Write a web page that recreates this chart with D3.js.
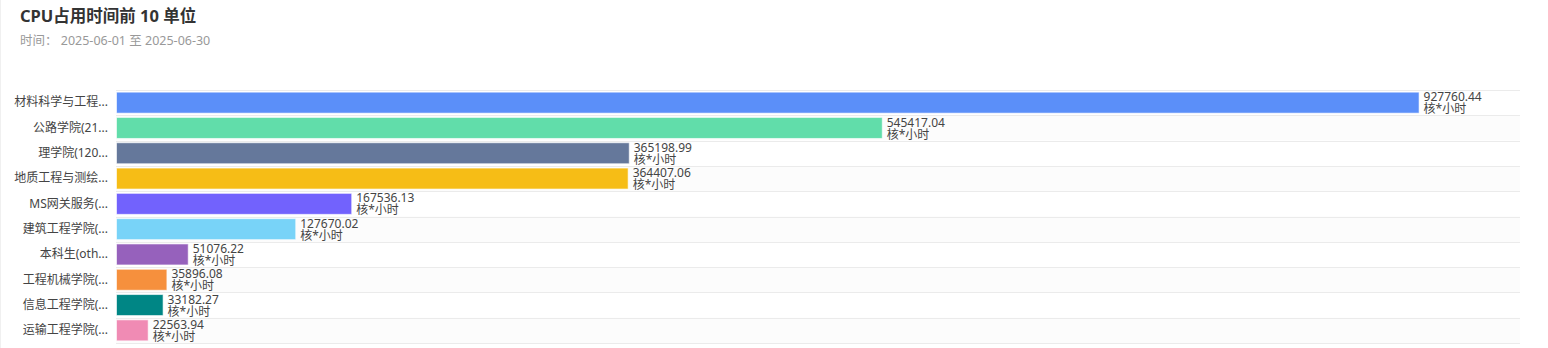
<!DOCTYPE html>
<html>
<head>
<meta charset="utf-8">
<script src="https://cdn.jsdelivr.net/npm/d3@7"></script>
<style>
  html, body { margin: 0; padding: 0; background: #fff; }
  svg { display: block; font-family: "Noto Sans", "Noto Sans CJK SC", sans-serif; }
</style>
</head>
<body>
<svg id="chart" width="1548" height="348"></svg>
<script>
// Top 10 units by CPU time (core-hours)
const categories = [
  "材料科学与工程...", "公路学院(21...", "理学院(120...", "地质工程与测绘...",
  "MS网关服务(...", "建筑工程学院(...", "本科生(oth...", "工程机械学院(...",
  "信息工程学院(...", "运输工程学院(..."
];
const values = [927760.44, 545417.04, 365198.99, 364407.06, 167536.13,
                127670.02, 51076.22, 35896.08, 33182.27, 22563.94];
const colors = ["#5B8FF9", "#61DDAA", "#65789B", "#F6BD16", "#7262FD",
                "#78D3F8", "#9661BC", "#F6903D", "#008685", "#F08BB4"];
const unit = "核*小时";
const title = "CPU占用时间前 10 单位";
const subtitle = "时间：  2025-06-01 至 2025-06-30";

const svg = d3.select("#chart");
const margin = { top: 90, right: 28, bottom: 5, left: 116 };
const W = 1548, H = 348;
const innerW = W - margin.left - margin.right;
const innerH = H - margin.top - margin.bottom;

svg.append("line").attr("x1", 0.5).attr("x2", 0.5).attr("y1", 0).attr("y2", H)
  .attr("stroke", "#f0f0f0");

svg.append("text").attr("x", 20).attr("y", 22)
  .attr("font-size", 16.5).attr("font-weight", "bold").attr("fill", "#333")
  .text(title);
svg.append("text").attr("x", 20).attr("y", 45)
  .attr("font-size", 12.5).attr("fill", "#999")
  .text(subtitle);

const x = d3.scaleLinear().domain([0, 1000000]).range([0, innerW]);
const y = d3.scaleBand().domain(categories).range([0, innerH]).paddingInner(0.17).paddingOuter(0.085);
const band = d3.scaleBand().domain(categories).range([0, innerH]);

const g = svg.append("g").attr("transform", `translate(${margin.left},${margin.top})`);

// alternating row backgrounds
g.selectAll("rect.row").data(categories).join("rect")
  .attr("class", "row")
  .attr("x", 0).attr("y", d => band(d))
  .attr("width", innerW).attr("height", band.bandwidth())
  .attr("fill", (d, i) => i % 2 ? "#fcfcfc" : "#ffffff");

// row separators
const lines = categories.map(d => band(d)).concat([innerH]);
g.selectAll("line.sep").data(lines).join("line")
  .attr("class", "sep")
  .attr("x1", 0).attr("x2", innerW)
  .attr("y1", d => Math.round(d) + 0.5).attr("y2", d => Math.round(d) + 0.5)
  .attr("stroke", "#ebebeb");

// category axis
const yAxis = d3.axisLeft(band).tickSize(0).tickPadding(8);
const ya = g.append("g").call(yAxis);
ya.select(".domain").remove();
ya.selectAll("text").attr("font-size", 12).attr("fill", "#444")
  .attr("font-family", "'Noto Sans', 'Noto Sans CJK SC', sans-serif");

// bars
g.selectAll("rect.bar").data(values).join("rect")
  .attr("class", "bar")
  .attr("x", 0.5)
  .attr("y", (d, i) => y(categories[i]))
  .attr("width", d => x(d))
  .attr("height", y.bandwidth())
  .attr("fill", (d, i) => colors[i])
  .attr("stroke", "rgba(255,255,255,0.6)")
  .attr("stroke-width", 1);

// value labels, two lines: number then unit
const lbl = g.selectAll("text.val").data(values).join("text")
  .attr("class", "val")
  .attr("x", d => x(d) + 5)
  .attr("y", (d, i) => band(categories[i]) + band.bandwidth() / 2)
  .attr("font-size", 12).attr("fill", "#444");
lbl.append("tspan").attr("x", d => x(d) + 5).attr("dy", "-0.12em").text(d => d3.format(".2f")(d));
lbl.append("tspan").attr("x", d => x(d) + 5).attr("dy", "1.0em").text(unit);
</script>
</body>
</html>
